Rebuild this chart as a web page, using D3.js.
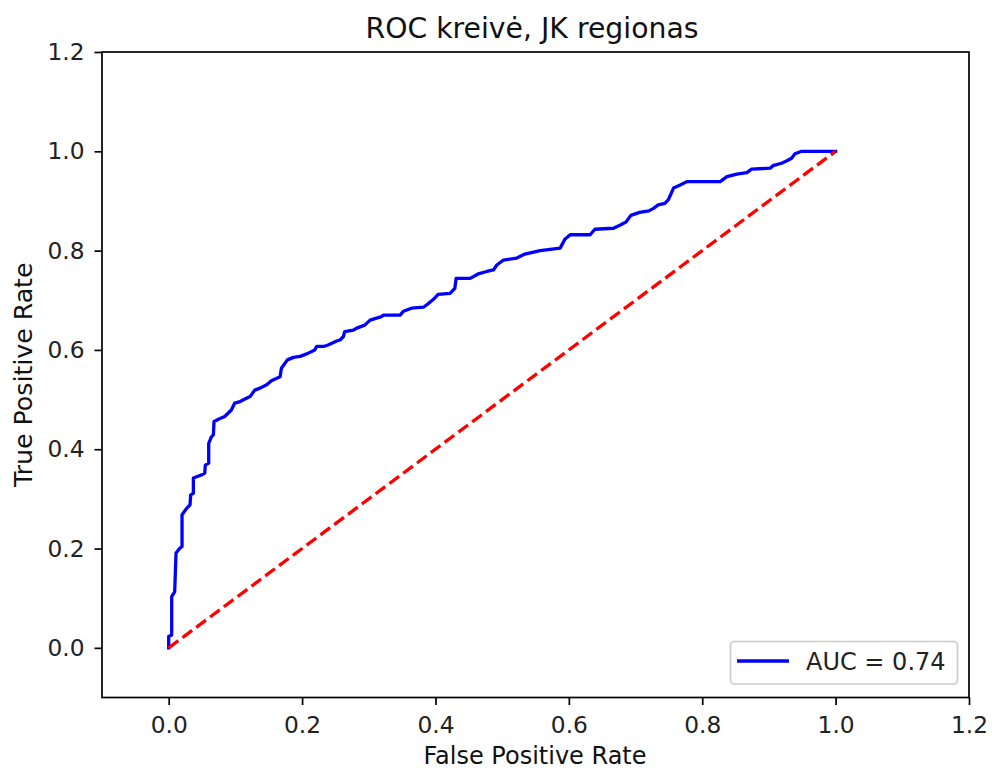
<!DOCTYPE html>
<html>
<head>
<meta charset="utf-8">
<script src="https://cdn.jsdelivr.net/npm/d3@7"></script>
<style>
  html, body { margin: 0; padding: 0; background: #fff; }
  svg { display: block; font-family: "DejaVu Sans", sans-serif; }
</style>
</head>
<body>
<svg id="chart" width="992" height="774"></svg>
<script>
// ---- data ----
const titleText = "ROC kreivė, JK regionas";
const xLabel = "False Positive Rate";
const yLabel = "True Positive Rate";
const legendLabel = "AUC = 0.74";
const xTicks = [0.0, 0.2, 0.4, 0.6, 0.8, 1.0, 1.2];
const yTicks = [0.0, 0.2, 0.4, 0.6, 0.8, 1.0, 1.2];
const xDomain = [-0.1, 1.2];
const yDomain = [-0.1, 1.2];
const fpr = [0, 0, 0, 0.0045, 0.0045, 0.009, 0.011, 0.017, 0.020, 0.020, 0.027, 0.032, 0.033, 0.037, 0.037,
  0.049, 0.054, 0.055, 0.060, 0.060, 0.064, 0.067, 0.068, 0.077, 0.084, 0.094, 0.099, 0.107, 0.122, 0.129,
  0.137, 0.147, 0.154, 0.167, 0.169, 0.178, 0.187, 0.197, 0.207, 0.219, 0.222, 0.232, 0.239, 0.252, 0.257,
  0.262, 0.264, 0.277, 0.284, 0.294, 0.302, 0.319, 0.322, 0.347, 0.352, 0.364, 0.382, 0.389, 0.397, 0.404,
  0.422, 0.429, 0.431, 0.452, 0.464, 0.477, 0.487, 0.492, 0.502, 0.522, 0.534, 0.557, 0.587, 0.594, 0.602,
  0.632, 0.639, 0.667, 0.678, 0.686, 0.693, 0.706, 0.720, 0.727, 0.734, 0.744, 0.749, 0.757, 0.767, 0.777,
  0.827, 0.837, 0.852, 0.867, 0.874, 0.902, 0.906, 0.919, 0.927, 0.934, 0.939, 0.949, 1.0];
const tpr = [0, 0.009, 0.023, 0.026, 0.103, 0.113, 0.191, 0.201, 0.204, 0.268, 0.281, 0.288, 0.308, 0.311, 0.342,
  0.348, 0.352, 0.368, 0.372, 0.412, 0.425, 0.429, 0.456, 0.462, 0.466, 0.479, 0.493, 0.496, 0.506, 0.519,
  0.523, 0.530, 0.538, 0.546, 0.563, 0.580, 0.585, 0.587, 0.592, 0.600, 0.607, 0.607, 0.610, 0.618, 0.620,
  0.627, 0.637, 0.640, 0.645, 0.650, 0.660, 0.667, 0.670, 0.670, 0.678, 0.684, 0.686, 0.693, 0.702, 0.712,
  0.714, 0.724, 0.744, 0.744, 0.753, 0.758, 0.761, 0.771, 0.781, 0.785, 0.793, 0.800, 0.805, 0.823, 0.832,
  0.832, 0.843, 0.845, 0.852, 0.858, 0.871, 0.877, 0.880, 0.885, 0.892, 0.895, 0.902, 0.926, 0.932, 0.939,
  0.939, 0.949, 0.954, 0.957, 0.964, 0.966, 0.971, 0.976, 0.981, 0.986, 0.995, 1.0, 1.0];
const diagX = [0, 1];
const diagY = [0, 1];

// ---- layout ----
const svg = d3.select("#chart");
const L = 102, R = 969, T = 52, B = 697.5;
const x = d3.scaleLinear().domain(xDomain).range([L, R]);
const y = d3.scaleLinear().domain(yDomain).range([B, T]);
const tickFont = 23.3;
const labelFont = 24;

// curves
const line = d3.line().x(d => x(d[0])).y(d => y(d[1]));
const roc = fpr.map((v, i) => [v, tpr[i]]);
const diag = diagX.map((v, i) => [v, diagY[i]]);

svg.append("path").datum(roc).attr("d", line)
  .attr("fill", "none").attr("stroke", "#0000ff").attr("stroke-width", 3.3)
  .attr("stroke-linejoin", "round").attr("stroke-linecap", "square");
svg.append("path").datum(diag).attr("d", line)
  .attr("fill", "none").attr("stroke", "#ff0000").attr("stroke-width", 3.3)
  .attr("stroke-dasharray", "12,5.2");

// axes
const xAxis = d3.axisBottom(x).tickValues(xTicks).tickFormat(d3.format(".1f"))
  .tickSize(7.5).tickPadding(11);
const yAxis = d3.axisLeft(y).tickValues(yTicks).tickFormat(d3.format(".1f"))
  .tickSize(7.5).tickPadding(10);

const gx = svg.append("g").attr("transform", `translate(0,${B})`).call(xAxis);
const gy = svg.append("g").attr("transform", `translate(${L},0)`).call(yAxis);
[gx, gy].forEach(g => {
  g.select(".domain").remove();
  g.selectAll("line").attr("stroke", "#000").attr("stroke-width", 1.7);
  g.selectAll("text").attr("fill", "#222").style("font-size", tickFont + "px")
    .style("font-family", "DejaVu Sans, sans-serif");
});

// frame
svg.append("rect").attr("x", L).attr("y", T).attr("width", R - L).attr("height", B - T)
  .attr("fill", "none").attr("stroke", "#000").attr("stroke-width", 1.7);

// title and labels
svg.append("text").attr("x", 532).attr("y", 38).attr("text-anchor", "middle")
  .style("font-size", "28.3px").attr("fill", "#111").text(titleText);
svg.append("text").attr("x", 535).attr("y", 764).attr("text-anchor", "middle")
  .style("font-size", labelFont + "px").attr("fill", "#111").text(xLabel);
svg.append("text").attr("transform", `translate(32,${(T + B) / 2}) rotate(-90) scale(1.05,1)`)
  .attr("text-anchor", "middle").style("font-size", labelFont + "px").attr("fill", "#111").text(yLabel);

// legend
const lg = svg.append("g");
lg.append("rect").attr("x", 730.5).attr("y", 641.5).attr("width", 227).attr("height", 42.5)
  .attr("rx", 4).attr("fill", "#fff").attr("fill-opacity", 0.8)
  .attr("stroke", "#cccccc").attr("stroke-width", 1.7);
lg.append("line").attr("x1", 737).attr("x2", 789).attr("y1", 661).attr("y2", 661)
  .attr("stroke", "#0000ff").attr("stroke-width", 3.3);
lg.append("text").attr("x", 806).attr("y", 670).style("font-size", labelFont + "px")
  .attr("fill", "#222").text(legendLabel);
</script>
</body>
</html>
